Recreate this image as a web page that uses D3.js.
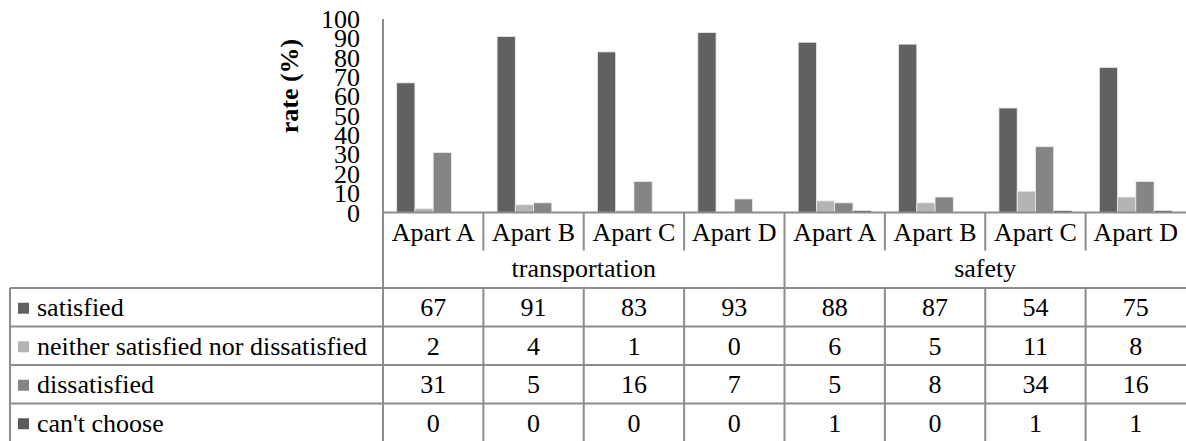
<!DOCTYPE html>
<html>
<head>
<meta charset="utf-8">
<script src="https://cdn.jsdelivr.net/npm/d3@7"></script>
<style>
  html, body { margin: 0; padding: 0; background: #fff; }
  text { font-family: 'Liberation Serif'; }
</style>
</head>
<body>
<svg id="chart" width="1186" height="441"></svg>
<script>
// ---- data ----
const groups = ["transportation", "safety"];
const aparts = ["Apart A", "Apart B", "Apart C", "Apart D"];
const seriesNames = ["satisfied", "neither satisfied nor dissatisfied", "dissatisfied", "can't choose"];
const satisfied    = [67, 91, 83, 93, 88, 87, 54, 75];
const neither      = [2, 4, 1, 0, 6, 5, 11, 8];
const dissatisfied = [31, 5, 16, 7, 5, 8, 34, 16];
const cantChoose   = [0, 0, 0, 0, 1, 0, 1, 1];
const yTicks = [0, 10, 20, 30, 40, 50, 60, 70, 80, 90, 100];
const axisTitle = "rate (%)";

const seriesValues = [satisfied, neither, dissatisfied, cantChoose];
const colors = ["#616161", "#b4b4b4", "#858585", "#595959"];
const lineColor = "#8c8c8c";
const serif = "'Liberation Serif'";

// make sure the serif face is loaded before any text is laid out
const probe = document.createElement("canvas").getContext("2d");
probe.font = `26px ${serif}`;
probe.measureText("Apart A satisfied 0123456789");
probe.font = `bold 26px ${serif}`;
probe.measureText(axisTitle);

// one column per (group, apartment)
const columns = [];
groups.forEach((g, gi) => aparts.forEach((a, ai) => columns.push({ key: g + "|" + a, group: g, apart: a, idx: gi * aparts.length + ai })));

const svg = d3.select("#chart");

// ---- layout ----
const plotLeft = 383, plotRight = 1186;
const yBase = 212.5, yTop = 19;
const headerRow1 = [212.5, 250.5];   // apartment names
const headerRow2 = [250.5, 288];     // group names
const rowTops = [288, 326.5, 365, 403.5, 442];
const tableLeft = 10;

const x = d3.scaleBand().domain(columns.map(c => c.key)).range([plotLeft, plotRight]).padding(0);
const xInner = d3.scaleBand().domain(d3.range(seriesNames.length)).range([0, x.bandwidth()])
  .paddingInner(0).paddingOuter(0.75);
const y = d3.scaleLinear().domain([0, 100]).range([yBase, yTop]);

// ---- bars ----
const barG = svg.append("g");
columns.forEach(c => {
  seriesValues.forEach((vals, si) => {
    const v = vals[c.idx];
    if (v <= 0) return;
    barG.append("rect")
      .attr("x", x(c.key) + xInner(si))
      .attr("width", xInner.bandwidth())
      .attr("y", y(v))
      .attr("height", yBase - y(v))
      .attr("fill", colors[si])
      .attr("stroke", "#ececec")
      .attr("stroke-width", 0.8);
  });
});

// ---- y axis ----
const yAxis = d3.axisLeft(y).tickValues(yTicks).tickSize(0).tickPadding(0);
const yAxisG = svg.append("g").attr("transform", `translate(360,0)`).call(yAxis);
yAxisG.attr("font-family", null).attr("font-size", null);
yAxisG.select(".domain").remove();
yAxisG.selectAll("text")
  .style("font-family", serif)
  .style("font-size", "26px")
  .attr("fill", "#000")
  .attr("dy", null)
  .attr("dominant-baseline", "central")
  .attr("x", 0);

svg.append("line")
  .attr("x1", plotLeft).attr("x2", plotLeft)
  .attr("y1", yTop).attr("y2", yBase)
  .attr("stroke", lineColor).attr("stroke-width", 2);

svg.append("text")
  .attr("transform", `translate(289,86) rotate(-90)`)
  .attr("text-anchor", "middle")
  .attr("dominant-baseline", "central")
  .style("font-family", serif)
  .style("font-size", "26px")
  .style("font-weight", "bold")
  .text(axisTitle);

// ---- data table ----
const grid = svg.append("g").attr("stroke", lineColor).attr("stroke-width", 2);

// baseline / top of header
grid.append("line").attr("x1", plotLeft).attr("x2", plotRight).attr("y1", yBase).attr("y2", yBase);
// header left edge
grid.append("line").attr("x1", plotLeft).attr("x2", plotLeft).attr("y1", yBase).attr("y2", headerRow2[1]);
// apartment separators in first header row
columns.forEach((c, i) => {
  if (i === 0) return;
  const xx = x(c.key);
  const full = (i % aparts.length === 0);
  grid.append("line").attr("x1", xx).attr("x2", xx)
    .attr("y1", yBase).attr("y2", full ? headerRow2[1] : headerRow1[1]);
});

// table horizontal lines
rowTops.slice(0, 4).forEach(t => {
  grid.append("line").attr("x1", tableLeft).attr("x2", plotRight).attr("y1", t).attr("y2", t);
});
// table vertical lines
grid.append("line").attr("x1", tableLeft).attr("x2", tableLeft).attr("y1", rowTops[0]).attr("y2", rowTops[4]);
grid.append("line").attr("x1", plotLeft).attr("x2", plotLeft).attr("y1", rowTops[0] - 10).attr("y2", rowTops[4]);
columns.forEach((c, i) => {
  if (i === 0) return;
  grid.append("line").attr("x1", x(c.key)).attr("x2", x(c.key)).attr("y1", rowTops[0]).attr("y2", rowTops[4]);
});

// text helper: serif, 26px, black
function label(parent, xPos, yPos, str, anchor) {
  return parent.append("text")
    .attr("x", xPos).attr("y", yPos)
    .attr("text-anchor", anchor || "start")
    .attr("fill", "#000")
    .attr("font-size", 26)
    .style("font-family", serif)
    .text(str);
}

const txt = svg.append("g");
// header texts
columns.forEach(c => {
  label(txt, x(c.key) + x.bandwidth() / 2, (headerRow1[0] + headerRow1[1]) / 2 + 9, c.apart, "middle");
});
groups.forEach((g, gi) => {
  const first = x(columns[gi * aparts.length].key);
  const last = x(columns[gi * aparts.length + aparts.length - 1].key) + x.bandwidth();
  label(txt, (first + last) / 2, (headerRow2[0] + headerRow2[1]) / 2 + 8, g, "middle");
});

// legend rows with values
seriesNames.forEach((name, si) => {
  const top = rowTops[si], bottom = rowTops[si + 1];
  const mid = (top + bottom) / 2;
  svg.append("rect")
    .attr("x", 18).attr("y", mid - 4.5)
    .attr("width", 11).attr("height", 11)
    .attr("fill", colors[si]);
  label(txt, 37, mid + 9, name);
  columns.forEach(c => {
    label(txt, x(c.key) + x.bandwidth() / 2, mid + 9, seriesValues[si][c.idx], "middle");
  });
});
</script>
</body>
</html>
